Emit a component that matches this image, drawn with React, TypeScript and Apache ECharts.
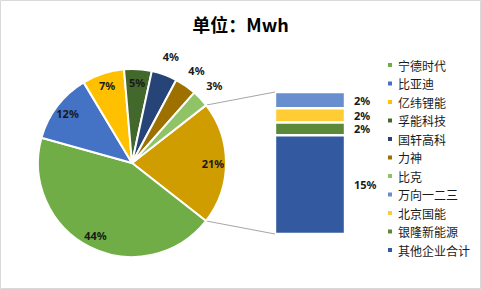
import React, { useEffect, useRef } from "react";
import * as echarts from "echarts";

const titleText = "单位：Mwh";
const pieNames = ["宁德时代", "比亚迪", "亿纬锂能", "孚能科技", "国轩高科", "力神", "比克"];
const pieValues = [43.5, 12.0, 7.2, 4.7, 4.4, 3.7, 2.9];
const pieColors = ["#70AD47", "#4472C4", "#FFC000", "#43682B", "#264478", "#9E7000", "#8FC365"];
const otherColor = "#D09D00";
const barNames = ["万向一二三", "北京国能", "银隆新能源", "其他企业合计"];
const barValues = [2.4, 2.1, 1.9, 14.6];
const barColors = ["#698ED0", "#FFCD33", "#5A8A37", "#335AA1"];
// labels drawn outside the pie (small slices)
const outsideLabelNames = ["国轩高科", "力神", "比克"];

const W = 481;
const H = 289;
const CX = 132;
const CY = 163;
const R = 94;
const START = 38;
const GRID = { left: 275, top: 92, width: 70, height: 142 };

export default function App() {
  const ref = useRef<HTMLDivElement>(null);
  useEffect(() => {
    if (!ref.current) return;
    const chart = echarts.init(ref.current, null, { renderer: "svg", width: W, height: H });
    const otherValue = barValues.reduce((a, b) => a + b, 0);
    const pieData = [
      { name: "其他", value: otherValue, itemStyle: { color: otherColor } },
      ...pieNames.map((n, i) => ({ name: n, value: pieValues[i], itemStyle: { color: pieColors[i] } })),
    ];
    const total = pieData.reduce((a, d) => a + d.value, 0);
    const otherSpan = (otherValue / total) * 360;
    const a1 = (START * Math.PI) / 180;
    const a2 = ((START - otherSpan) * Math.PI) / 180;
    const fmt = (p: any) => Math.round(p.value) + "%";
    const labelStyle = { fontSize: 11, fontWeight: "bold", color: "#1a1a1a", fontFamily: "Noto Sans" };

    chart.setOption({
      animation: false,
      backgroundColor: "#ffffff",
      title: {
        text: titleText,
        left: "center",
        top: 10,
        textStyle: { fontSize: 18, fontWeight: "bold", color: "#000", fontFamily: "Noto Sans CJK SC" },
      },
      legend: {
        orient: "vertical",
        left: 381,
        top: 54,
        itemWidth: 6,
        itemHeight: 6,
        itemGap: 6.5,
        icon: "rect",
        data: [...pieNames, ...barNames],
        textStyle: { fontSize: 12, color: "#1a1a1a", fontFamily: "Noto Sans CJK SC" },
      },
      graphic: [
        {
          type: "rect",
          silent: true,
          shape: { x: 0.5, y: 0.5, width: W - 1, height: H - 1 },
          style: { fill: "none", stroke: "#d9d9d9", lineWidth: 1 },
        },
        {
          type: "line",
          silent: true,
          shape: { x1: CX + R * Math.cos(a1), y1: CY - R * Math.sin(a1), x2: GRID.left, y2: GRID.top },
          style: { stroke: "#a6a6a6", lineWidth: 1 },
        },
        {
          type: "line",
          silent: true,
          shape: { x1: CX + R * Math.cos(a2), y1: CY - R * Math.sin(a2), x2: GRID.left, y2: GRID.top + GRID.height },
          style: { stroke: "#a6a6a6", lineWidth: 1 },
        },
      ],
      grid: { ...GRID },
      xAxis: { type: "category", data: [""], show: false },
      yAxis: { type: "value", min: 0, max: otherValue, show: false },
      series: [
        {
          type: "pie",
          name: "main",
          center: [CX, CY],
          radius: [0, R],
          startAngle: START,
          clockwise: true,
          avoidLabelOverlap: false,
          itemStyle: { borderColor: "#fff", borderWidth: 2 },
          label: { show: false },
          labelLine: { show: false },
          emphasis: { disabled: true },
          data: pieData,
        },
        {
          type: "pie",
          name: "innerLabels",
          center: [CX, CY],
          radius: [R * 0.66, R],
          startAngle: START,
          silent: true,
          avoidLabelOverlap: false,
          itemStyle: { color: "rgba(0,0,0,0)" },
          label: { show: true, position: "inside", formatter: fmt, ...labelStyle },
          labelLine: { show: false },
          data: pieData.map((d) => ({
            name: d.name,
            value: d.value,
            itemStyle: { color: "rgba(0,0,0,0)" },
            label: { show: !outsideLabelNames.includes(d.name) },
          })),
        },
        {
          type: "pie",
          name: "outerLabels",
          center: [CX, CY],
          radius: [R, R * 1.34],
          startAngle: START,
          silent: true,
          avoidLabelOverlap: false,
          itemStyle: { color: "rgba(0,0,0,0)" },
          label: { show: true, position: "inside", formatter: fmt, ...labelStyle },
          labelLine: { show: false },
          data: pieData.map((d) => ({
            name: d.name,
            value: d.value,
            itemStyle: { color: "rgba(0,0,0,0)" },
            label: { show: outsideLabelNames.includes(d.name) },
          })),
        },
        ...barNames
          .map((n, i) => ({ n, i }))
          .reverse()
          .map(({ n, i }) => ({
            type: "bar",
            name: n,
            stack: "other",
            barWidth: GRID.width,
            itemStyle: { color: barColors[i], borderColor: "#fff", borderWidth: 1.2 },
            label: { show: true, position: "right", distance: 9, formatter: fmt, ...labelStyle },
            emphasis: { disabled: true },
            data: [barValues[i]],
          })),
      ],
    });
    return () => chart.dispose();
  }, []);
  return <div ref={ref} style={{ position: "absolute", left: 0, top: 0, width: W, height: H }} />;
}
